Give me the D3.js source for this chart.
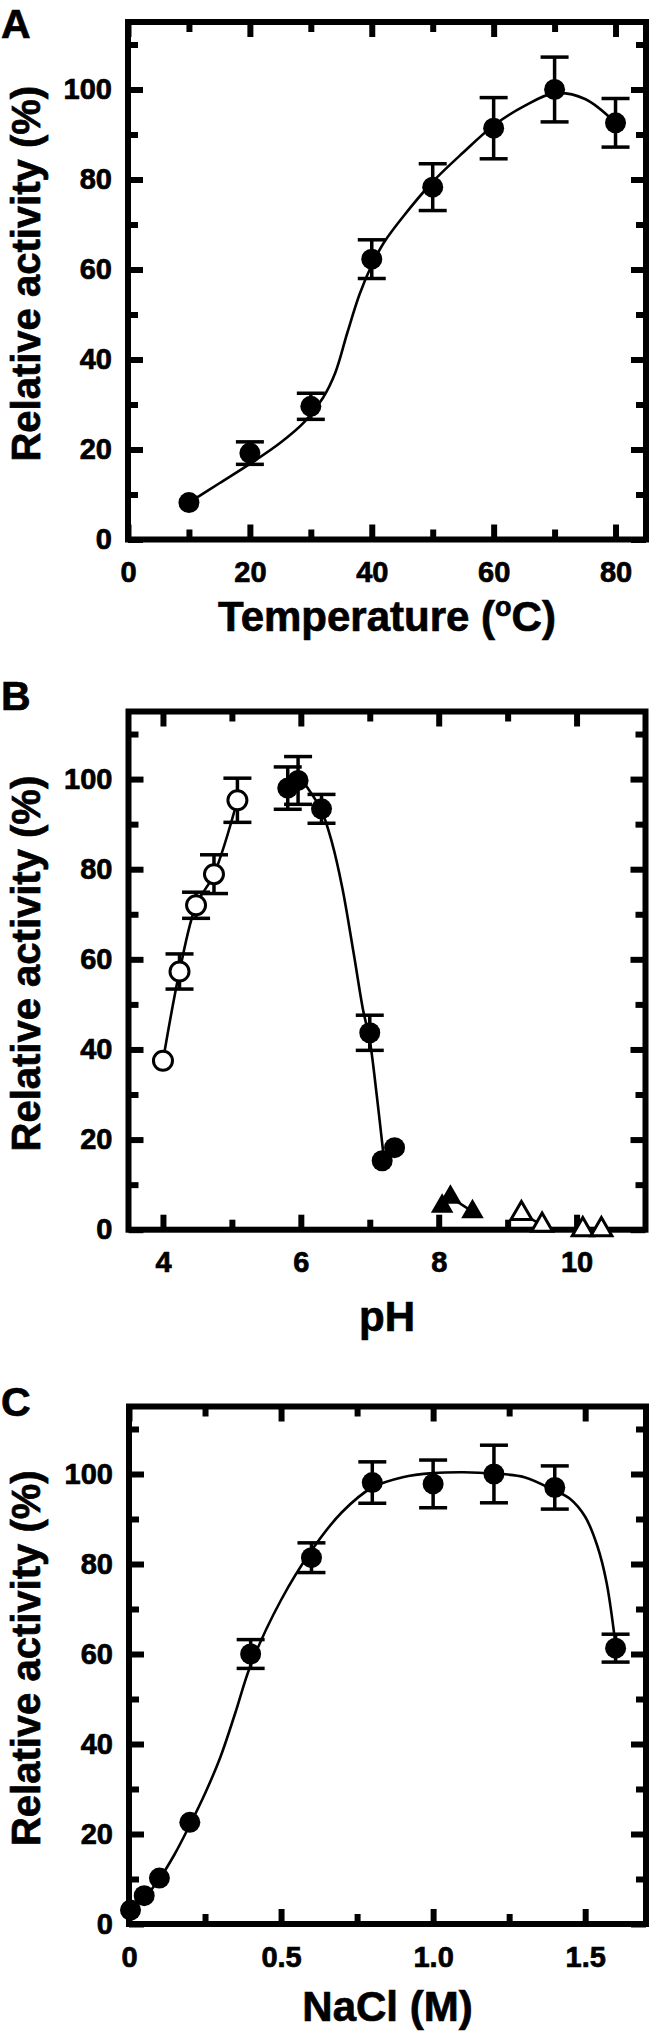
<!DOCTYPE html>
<html>
<head>
<meta charset="utf-8">
<script src="https://cdn.jsdelivr.net/npm/d3@7"></script>
<style>
body { margin: 0; background: #fff; }
svg text { font-family: "Liberation Sans", Arial, Helvetica, sans-serif; font-weight: bold; fill: #000; stroke: #000; stroke-width: 0.7px; }
</style>
</head>
<body>
<svg id="fig" width="650" height="2033"></svg>
<script>
// ---- panel A : temperature ----
var tempC = [10, 20, 30, 40, 50, 60, 70, 80]
var tempAct = [8.2, 19.2, 29.6, 62.3, 78.3, 91.4, 100, 92.6]
var tempErr = [0, 2.5, 2.9, 4.3, 5.2, 6.8, 7.2, 5.4]
var tempFitX = [10, 15, 20, 25, 29, 32, 34, 36, 38, 40, 42, 45, 50, 55, 60, 65, 70, 75, 80]
var tempFitY = [8.2, 12.5, 16.8, 21.5, 26.2, 31.5, 37, 46, 54.5, 61, 66, 71.5, 79.5, 86, 92, 96.3, 99.2, 97.9, 92.6]

// ---- panel B : pH ----
var phAcid = [4.0, 4.24, 4.48, 4.74, 5.08]            // open circles
var actAcid = [37.5, 57.3, 72, 78.9, 95.3]
var errAcid = [0, 3.9, 2.9, 4.3, 4.9]
var phNeut = [5.81, 5.96, 6.3, 7.0, 7.18, 7.36]       // filled circles
var actNeut = [98, 99.7, 93.4, 43.7, 15.3, 18.2]
var errNeut = [4.7, 5.3, 3.2, 3.9, 0, 0]
var fitNeutX = [5.97, 6.1, 6.3, 6.45, 6.6, 6.77, 6.9, 7.0, 7.1, 7.2]
var fitNeutY = [100.5, 98, 93, 86, 76, 61, 49, 42, 30, 16.5]
var phTris = [8.05, 8.17, 8.49]                       // filled triangles
var actTris = [5.2, 7.2, 4.0]
var phBoric = [9.2, 9.5, 10.09, 10.36]                // open triangles
var actBoric = [3.6, 1.0, 0, 0]

// ---- panel C : NaCl ----
var naclM = [0.005, 0.05, 0.1, 0.2, 0.4, 0.6, 0.8, 1.0, 1.2, 1.4, 1.6]
var naclAct = [3.1, 6.3, 10.2, 22.6, 60, 81.4, 98.1, 97.8, 100, 97, 61.3]
var naclErr = [0, 0, 0, 0, 3.2, 3.3, 4.6, 5.3, 6.4, 4.8, 3.1]
var naclFitX = [0.005, 0.05, 0.1, 0.15, 0.2, 0.25, 0.3, 0.35, 0.4, 0.5, 0.6, 0.7, 0.8, 0.9, 1.0, 1.1, 1.2, 1.3, 1.4, 1.45, 1.5, 1.54, 1.57, 1.6]
var naclFitY = [3, 5.8, 10, 15.5, 22, 29, 37, 47, 57.5, 72, 83, 91.5, 97, 99.3, 100.2, 100.4, 100.1, 99.3, 96.3, 94.5, 90.5, 84, 76, 62]

var yMajor = [0, 20, 40, 60, 80, 100]
var yMinor = [10, 30, 50, 70, 90, 110]

var svg = d3.select("#fig")

function zip(a, b, c) {
    var out = []
    for (var i = 0; i < a.length; ++i) out.push({ x: a[i], y: b[i], e: c ? c[i] : 0 })
    return out
}

function make_panel(p) {
    var x = d3.scaleLinear().domain(p.xdom).range([p.left, p.right])
    var y = d3.scaleLinear().domain([0, 115]).range([p.bottom, p.top])
    var g = svg.append("g")

    function style_axis(a, lab) {
        a.select(".domain").remove()
        a.selectAll(".tick line").attr("stroke", "#000").attr("stroke-width", 6)
        a.attr("font-family", null).attr("font-size", 29)
        if (!lab) a.selectAll(".tick text").remove()
    }
    // bottom
    g.append("g").attr("transform", "translate(0," + p.bottom + ")")
        .call(d3.axisBottom(x).tickValues(p.xMajor).tickSize(-15).tickPadding(22).tickFormat(p.fmt))
        .call(style_axis, true)
    g.append("g").attr("transform", "translate(0," + p.bottom + ")")
        .call(d3.axisBottom(x).tickValues(p.xMinor).tickSize(-10))
        .call(style_axis, false)
    // top (mirror)
    g.append("g").attr("transform", "translate(0," + p.top + ")")
        .call(d3.axisTop(x).tickValues(p.xMajor).tickSize(-15)).call(style_axis, false)
    g.append("g").attr("transform", "translate(0," + p.top + ")")
        .call(d3.axisTop(x).tickValues(p.xMinor).tickSize(-10)).call(style_axis, false)
    // left
    g.append("g").attr("transform", "translate(" + p.left + ",0)")
        .call(d3.axisLeft(y).tickValues(yMajor).tickSize(-15).tickPadding(16).tickFormat(d3.format("d")))
        .call(style_axis, true)
    g.append("g").attr("transform", "translate(" + p.left + ",0)")
        .call(d3.axisLeft(y).tickValues(yMinor).tickSize(-10)).call(style_axis, false)
    // right (mirror)
    g.append("g").attr("transform", "translate(" + p.right + ",0)")
        .call(d3.axisRight(y).tickValues(yMajor).tickSize(-15)).call(style_axis, false)
    g.append("g").attr("transform", "translate(" + p.right + ",0)")
        .call(d3.axisRight(y).tickValues(yMinor).tickSize(-10)).call(style_axis, false)

    g.append("rect")
        .attr("x", p.left).attr("y", p.top)
        .attr("width", p.right - p.left).attr("height", p.bottom - p.top)
        .attr("fill", "none").attr("stroke", "#000").attr("stroke-width", 6)

    // titles
    g.append("text")
        .attr("transform", "translate(40," + ((p.top + p.bottom) / 2 - 7) + ") rotate(-90)")
        .attr("text-anchor", "middle").attr("font-size", 40)
        .text("Relative activity (%)")
    var xt = g.append("text")
        .attr("x", (p.left + p.right) / 2).attr("y", p.xTitleY)
        .attr("text-anchor", "middle").attr("font-size", 42)
    p.xTitle(xt)
    g.append("text").attr("x", 1).attr("y", p.letterY)
        .attr("font-size", 41).text(p.letter)

    return { g: g, x: x, y: y }
}

function fit_line(P, xs, ys) {
    var line = d3.line().curve(d3.curveCatmullRom.alpha(0.5))
        .x(function (d) { return P.x(d.x) }).y(function (d) { return P.y(d.y) })
    P.g.append("path").datum(zip(xs, ys))
        .attr("d", line).attr("fill", "none").attr("stroke", "#000").attr("stroke-width", 2.6)
}

function err_bars(P, data) {
    var withErr = data.filter(function (d) { return d.e > 0 })
    var eb = P.g.append("g").attr("stroke", "#000").attr("stroke-width", 3.5)
    eb.selectAll(".v").data(withErr).enter().append("line")
        .attr("x1", function (d) { return P.x(d.x) }).attr("x2", function (d) { return P.x(d.x) })
        .attr("y1", function (d) { return P.y(d.y - d.e) }).attr("y2", function (d) { return P.y(d.y + d.e) })
    ;[-1, 1].forEach(function (s) {
        eb.selectAll(".c" + s).data(withErr).enter().append("line")
            .attr("x1", function (d) { return P.x(d.x) - 14 }).attr("x2", function (d) { return P.x(d.x) + 14 })
            .attr("y1", function (d) { return P.y(d.y + s * d.e) }).attr("y2", function (d) { return P.y(d.y + s * d.e) })
    })
}

function circles(P, data, open) {
    P.g.append("g").selectAll("circle").data(data).enter().append("circle")
        .attr("cx", function (d) { return P.x(d.x) }).attr("cy", function (d) { return P.y(d.y) })
        .attr("r", open ? 9.5 : 10.5)
        .attr("fill", open ? "#fff" : "#000")
        .attr("stroke", "#000").attr("stroke-width", open ? 3 : 0)
}

function triangles(P, data, open) {
    P.g.append("g").selectAll("path").data(data).enter().append("path")
        .attr("d", d3.symbol(d3.symbolTriangle, open ? 190 : 220))
        .attr("transform", function (d) { return "translate(" + P.x(d.x) + "," + P.y(d.y) + ")" })
        .attr("fill", open ? "#fff" : "#000")
        .attr("stroke", "#000").attr("stroke-width", open ? 3 : 0)
}

// ---- A ----
var A = make_panel({
    xdom: [0, 85], left: 128, right: 646, top: 22, bottom: 539.5,
    xMajor: [0, 20, 40, 60, 80], xMinor: [10, 30, 50, 70], fmt: d3.format("d"),
    letter: "A", letterY: 38, xTitleY: 631,
    xTitle: function (t) {
        t.append("tspan").text("Temperature (")
        t.append("tspan").attr("font-size", 27).attr("dy", -15).text("o")
        t.append("tspan").attr("dy", 15).text("C)")
    }
})
fit_line(A, tempFitX, tempFitY)
var dA = zip(tempC, tempAct, tempErr)
err_bars(A, dA)
circles(A, dA, false)

// ---- B ----
var B = make_panel({
    xdom: [3.5, 11], left: 128.5, right: 645.5, top: 711.5, bottom: 1229.7,
    xMajor: [4, 6, 8, 10], xMinor: [5, 7, 9], fmt: d3.format("d"),
    letter: "B", letterY: 710, xTitleY: 1331,
    xTitle: function (t) { t.text("pH") }
})
fit_line(B, phAcid, actAcid)
fit_line(B, fitNeutX, fitNeutY)
fit_line(B, phTris.slice(1), actTris.slice(1))
fit_line(B, phBoric.slice(0, 2), actBoric.slice(0, 2))
fit_line(B, phBoric.slice(2), actBoric.slice(2))
var dAcid = zip(phAcid, actAcid, errAcid)
var dNeut = zip(phNeut, actNeut, errNeut)
err_bars(B, dAcid)
err_bars(B, dNeut)
circles(B, dAcid, true)
circles(B, dNeut, false)
triangles(B, zip(phTris, actTris), false)
triangles(B, zip(phBoric, actBoric), true)

// ---- C ----
var C = make_panel({
    xdom: [0, 1.7], left: 129, right: 646, top: 1406.5, bottom: 1924,
    xMajor: [0, 0.5, 1.0, 1.5], xMinor: [0.25, 0.75, 1.25],
    fmt: function (d) { return d === 0 ? "0" : d3.format(".1f")(d) },
    letter: "C", letterY: 1416, xTitleY: 2021,
    xTitle: function (t) { t.text("NaCl (M)") }
})
fit_line(C, naclFitX, naclFitY)
var dC = zip(naclM, naclAct, naclErr)
err_bars(C, dC)
circles(C, dC, false)
</script>
</body>
</html>
